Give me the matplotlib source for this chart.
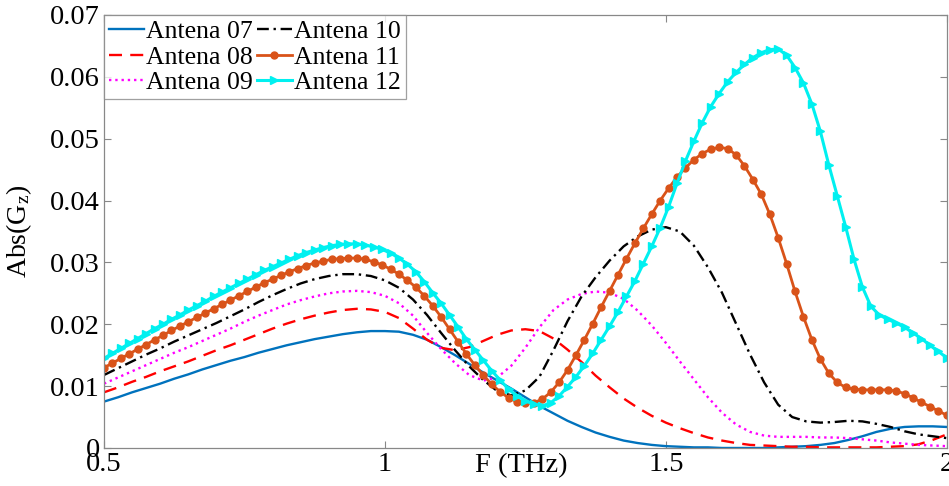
import numpy as np
import matplotlib
matplotlib.use("Agg")
import matplotlib.pyplot as plt

plt.rcParams['font.family'] = ['Liberation Serif', 'DejaVu Serif']
plt.rcParams['mathtext.fontset'] = 'custom'
plt.rcParams['mathtext.rm'] = 'Liberation Serif'
plt.rcParams['mathtext.it'] = 'Liberation Serif:italic'

# frequency grids (THz)
f_coarse = np.linspace(0.5, 2.0, 61)    # lines without markers
f_fine = np.linspace(0.5, 2.0, 101)     # lines with markers

antena07 = [0.0075, 0.0082, 0.0090, 0.0097, 0.0104, 0.0112, 0.0119, 0.0127, 0.0134, 0.0141,
            0.0147, 0.0154, 0.0160, 0.0166, 0.0171, 0.0176, 0.0180, 0.0184, 0.0187, 0.0189,
            0.0189, 0.0188, 0.0183, 0.0175, 0.0163, 0.0150, 0.0136, 0.0122, 0.0109, 0.0096,
            0.0082, 0.0068, 0.0056, 0.0044, 0.0034, 0.0025, 0.0018, 0.0012, 0.0008, 0.0005,
            0.0003, 0.0002, 0.0001, 0.0001, 0.0000, 0.0000, 0.0000, 0.0000, 0.0001, 0.0002,
            0.0003, 0.0005, 0.0008, 0.0013, 0.0019, 0.0026, 0.0031, 0.0034, 0.0035, 0.0035,
            0.0034]

antena08 = [0.0090, 0.0098, 0.0107, 0.0115, 0.0124, 0.0132, 0.0140, 0.0149, 0.0158, 0.0166,
            0.0175, 0.0184, 0.0193, 0.0201, 0.0208, 0.0214, 0.0219, 0.0223, 0.0225, 0.0224,
            0.0220, 0.0210, 0.0193, 0.0175, 0.0162, 0.0158, 0.0163, 0.0173, 0.0183, 0.0190,
            0.0192, 0.0189, 0.0177, 0.0159, 0.0139, 0.0117, 0.0098, 0.0080, 0.0065, 0.0052,
            0.0041, 0.0032, 0.0024, 0.0017, 0.0012, 0.0008, 0.0005, 0.0004, 0.0003, 0.0002,
            0.0002, 0.0001, 0.0001, 0.0001, 0.0001, 0.0001, 0.0002, 0.0003, 0.0006, 0.0013,
            0.0022]

antena09 = [0.0104, 0.0114, 0.0124, 0.0134, 0.0144, 0.0154, 0.0163, 0.0173, 0.0183, 0.0193,
            0.0204, 0.0214, 0.0223, 0.0232, 0.0239, 0.0245, 0.0250, 0.0253, 0.0254, 0.0252,
            0.0246, 0.0234, 0.0214, 0.0186, 0.0160, 0.0137, 0.0118, 0.0109, 0.0114, 0.0133,
            0.0162, 0.0195, 0.0223, 0.0240, 0.0249, 0.0253, 0.0251, 0.0241, 0.0222, 0.0198,
            0.0170, 0.0140, 0.0111, 0.0082, 0.0057, 0.0038, 0.0026, 0.0020, 0.0018, 0.0018,
            0.0018, 0.0017, 0.0017, 0.0016, 0.0014, 0.0012, 0.0009, 0.0007, 0.0005, 0.0004,
            0.0003]

antena10 = [0.0118, 0.0129, 0.0140, 0.0151, 0.0161, 0.0172, 0.0182, 0.0192, 0.0202, 0.0213,
            0.0224, 0.0236, 0.0247, 0.0257, 0.0266, 0.0273, 0.0278, 0.0281, 0.0281, 0.0278,
            0.0271, 0.0259, 0.0240, 0.0215, 0.0186, 0.0158, 0.0132, 0.0110, 0.0092, 0.0085,
            0.0093, 0.0115, 0.0158, 0.0205, 0.0245, 0.0276, 0.0303, 0.0326, 0.0342, 0.0353,
            0.0357, 0.0350, 0.0327, 0.0292, 0.0251, 0.0201, 0.0151, 0.0106, 0.0070, 0.0050,
            0.0043, 0.0041, 0.0042, 0.0044, 0.0043, 0.0039, 0.0034, 0.0027, 0.0022, 0.0019,
            0.0016]

antena11 = [0.0130, 0.0137, 0.0145, 0.0152, 0.0160, 0.0167, 0.0175, 0.0182, 0.0190, 0.0197,
            0.0204, 0.0211, 0.0218, 0.0225, 0.0232, 0.0239, 0.0246, 0.0253, 0.0260, 0.0267,
            0.0273, 0.0279, 0.0285, 0.0290, 0.0295, 0.0299, 0.0302, 0.0305, 0.0306, 0.0307,
            0.0307, 0.0305, 0.0301, 0.0296, 0.0289, 0.0281, 0.0271, 0.0260, 0.0246, 0.0230,
            0.0212, 0.0192, 0.0172, 0.0152, 0.0134, 0.0118, 0.0103, 0.0091, 0.0081, 0.0075,
            0.0072, 0.0073, 0.0079, 0.0090, 0.0106, 0.0126, 0.0150, 0.0175, 0.0201, 0.0228,
            0.0254, 0.0280, 0.0306, 0.0331, 0.0355, 0.0378, 0.0400, 0.0420, 0.0438, 0.0453,
            0.0466, 0.0476, 0.0483, 0.0486, 0.0484, 0.0474, 0.0456, 0.0434, 0.0410, 0.0378,
            0.0340, 0.0298, 0.0253, 0.0212, 0.0175, 0.0144, 0.0121, 0.0106, 0.0098, 0.0095,
            0.0094, 0.0094, 0.0094, 0.0094, 0.0092, 0.0088, 0.0081, 0.0074, 0.0067, 0.0060,
            0.0053]

antena12 = [0.0145, 0.0153, 0.0161, 0.0169, 0.0177, 0.0185, 0.0193, 0.0200, 0.0208, 0.0215,
            0.0223, 0.0230, 0.0237, 0.0245, 0.0252, 0.0259, 0.0266, 0.0273, 0.0280, 0.0287,
            0.0293, 0.0299, 0.0305, 0.0311, 0.0316, 0.0320, 0.0324, 0.0327, 0.0329, 0.0330,
            0.0330, 0.0328, 0.0325, 0.0321, 0.0315, 0.0307, 0.0297, 0.0285, 0.0269, 0.0251,
            0.0234, 0.0215, 0.0196, 0.0176, 0.0159, 0.0142, 0.0125, 0.0110, 0.0095, 0.0084,
            0.0076, 0.0071, 0.0068, 0.0073, 0.0084, 0.0099, 0.0115, 0.0133, 0.0153, 0.0175,
            0.0197, 0.0220, 0.0245, 0.0270, 0.0298, 0.0326, 0.0356, 0.0390, 0.0428, 0.0464,
            0.0496, 0.0526, 0.0552, 0.0573, 0.0592, 0.0607, 0.0620, 0.0631, 0.0639, 0.0644,
            0.0645, 0.0635, 0.0615, 0.0590, 0.0556, 0.0512, 0.0458, 0.0408, 0.0358, 0.0305,
            0.0260, 0.0229, 0.0215, 0.0208, 0.0202, 0.0195, 0.0186, 0.0177, 0.0166, 0.0156,
            0.0146]

labels = ['Antena 07', 'Antena 08', 'Antena 09', 'Antena 10', 'Antena 11', 'Antena 12']
xticks = [0.5, 1, 1.5, 2]
xticklabels = ['0.5', '1', '1.5', '2']
yticks = [0, 0.01, 0.02, 0.03, 0.04, 0.05, 0.06, 0.07]
yticklabels = ['0', '0.01', '0.02', '0.03', '0.04', '0.05', '0.06', '0.07']

fig = plt.figure(figsize=(9.49, 4.86), dpi=100)
ax = fig.add_axes([0.1096, 0.0782, 0.888, 0.891])

ax.plot(f_coarse, antena07, color='#0072BD', lw=1.7, label=labels[0])
ax.plot(f_coarse, antena08, color='#FF0000', lw=1.7, dashes=(5.5, 3.5), label=labels[1])
ax.plot(f_coarse, antena09, color='#FF00FF', lw=1.7, linestyle=':', label=labels[2])
ax.plot(f_coarse, antena10, color='black', lw=1.7, dashes=(5, 2, 1, 2), label=labels[3])
ax.plot(f_fine, antena11, color='#D95319', lw=2.0, marker='o', markersize=5,
        markerfacecolor='#D95319', markeredgecolor='#D95319', label=labels[4])
ax.plot(f_fine, antena12, color='#00F0F0', lw=2.2, marker='>', markersize=5.5,
        markerfacecolor='#00F0F0', markeredgecolor='#00F0F0', label=labels[5])

ax.set_xlim(0.5, 2.0)
ax.set_ylim(0, 0.07)
ax.set_xticks(xticks)
ax.set_xticklabels(xticklabels)
ax.set_yticks(yticks)
ax.set_yticklabels(yticklabels)
ax.tick_params(direction='in', top=True, right=True, length=5, width=0.8,
               colors='#888888', labelcolor='black', labelsize=20.5, pad=3)
for s in ax.spines.values():
    s.set_color('#888888')
    s.set_linewidth(0.9)

ax.set_xlabel('F (THz)', fontsize=20.5)
ax.xaxis.set_label_coords(0.495, -0.012)
ax.xaxis.label.set_va('top')
ax.set_ylabel('Abs(G$_\\mathrm{z}$)', fontsize=20)
ax.yaxis.set_label_coords(-0.083, 0.5)

leg = ax.legend(loc='upper left', ncol=2, fontsize=18.5, frameon=True, fancybox=False,
                borderaxespad=0, handlelength=1.35, handletextpad=0.1, columnspacing=0.15,
                labelspacing=0.1, borderpad=0.2, numpoints=1)
leg.get_frame().set_edgecolor('#888888')
leg.get_frame().set_linewidth(0.9)

fig.savefig('out.png', dpi=100)
